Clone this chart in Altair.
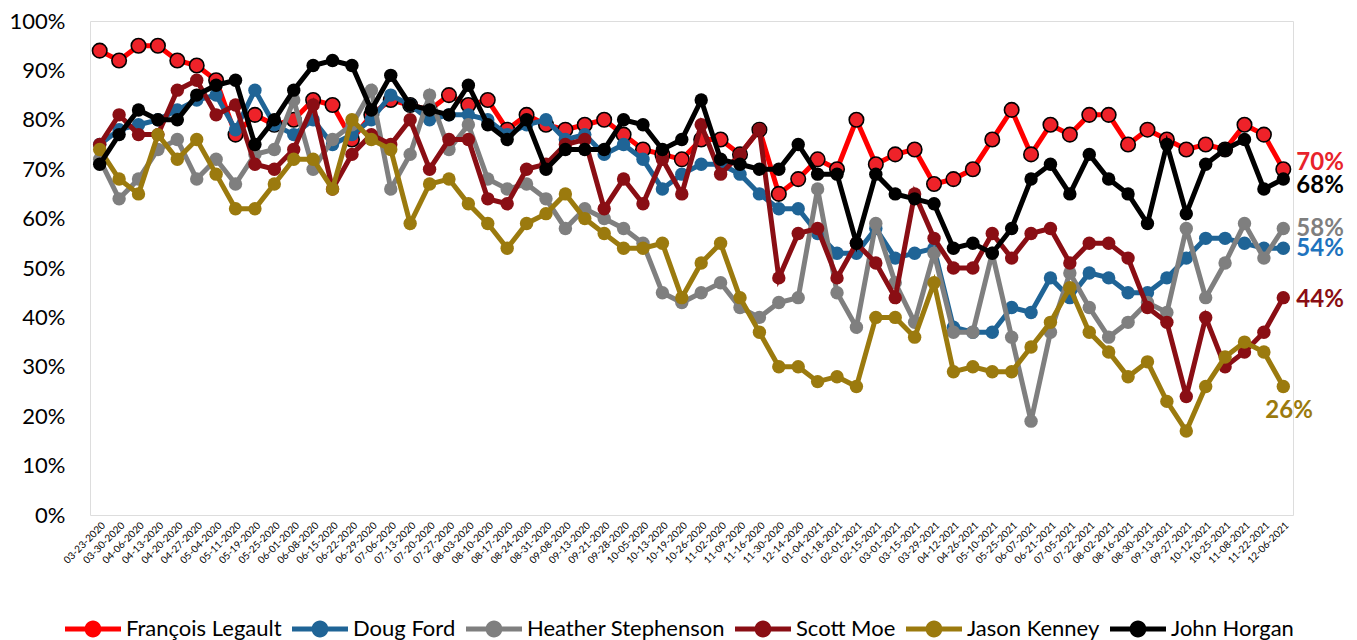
import altair as alt
import pandas as pd

dates = ["03-23-2020","03-30-2020","04-06-2020","04-13-2020","04-20-2020","04-27-2020","05-04-2020","05-11-2020",
         "05-19-2020","05-25-2020","06-01-2020","06-08-2020","06-15-2020","06-22-2020","06-29-2020","07-06-2020",
         "07-13-2020","07-20-2020","07-27-2020","08-03-2020","08-10-2020","08-17-2020","08-24-2020","08-31-2020",
         "09-08-2020","09-13-2020","09-21-2020","09-28-2020","10-05-2020","10-13-2020","10-19-2020","10-26-2020",
         "11-02-2020","11-09-2020","11-16-2020","11-30-2020","12-14-2020","01-04-2021","01-18-2021","02-01-2021",
         "02-15-2021","03-01-2021","03-15-2021","03-29-2021","04-12-2021","04-26-2021","05-10-2021","05-25-2021",
         "06-07-2021","06-21-2021","07-05-2021","07-22-2021","08-02-2021","08-16-2021","08-30-2021","09-13-2021",
         "09-27-2021","10-12-2021","10-25-2021","11-08-2021","11-22-2021","12-06-2021"]

legault = [94, 92, 95, 95, 92, 91, 88, 77, 81, 79,
           80, 84, 83, 76, 81, 84, 83, 82, 85, 83,
           84, 78, 81, 79, 78, 79, 80, 77, 74, 73,
           72, 76, 76, 73, 78, 65, 68, 72, 70, 80,
           71, 73, 74, 67, 68, 70, 76, 82, 73, 79,
           77, 81, 81, 75, 78, 76, 74, 75, 74, 79,
           77, 70]
ford = [75, 78, 79, 80, 82, 84, 85, 78, 86, 79,
        77, 80, 75, 77, 80, 85, 83, 80, 81, 81,
        80, 77, 79, 80, 76, 77, 73, 75, 72, 66,
        69, 71, 71, 69, 65, 62, 62, 57, 53, 53,
        58, 52, 53, 54, 38, 37, 37, 42, 41, 48,
        44, 49, 48, 45, 45, 48, 52, 56, 56, 55,
        54, 54]
stephenson = [72, 64, 68, 74, 76, 68, 72, 67, 73, 74,
              84, 70, 76, 79, 86, 66, 73, 85, 74, 79,
              68, 66, 67, 64, 58, 62, 60, 58, 55, 45,
              43, 45, 47, 42, 40, 43, 44, 66, 45, 38,
              59, 47, 39, 53, 37, 37, 53, 36, 19, 37,
              49, 42, 36, 39, 43, 41, 58, 44, 51, 59,
              52, 58]
moe = [75, 81, 77, 77, 86, 88, 81, 83, 71, 70,
       74, 83, 66, 73, 77, 75, 80, 70, 76, 76,
       64, 63, 70, 71, 75, 76, 62, 68, 63, 72,
       65, 79, 69, 73, 78, 48, 57, 58, 48, 55,
       51, 44, 65, 56, 50, 50, 57, 52, 57, 58,
       51, 55, 55, 52, 42, 39, 24, 40, 30, 33,
       37, 44]
kenney = [74, 68, 65, 77, 72, 76, 69, 62, 62, 67,
          72, 72, 66, 80, 76, 74, 59, 67, 68, 63,
          59, 54, 59, 61, 65, 60, 57, 54, 54, 55,
          44, 51, 55, 44, 37, 30, 30, 27, 28, 26,
          40, 40, 36, 47, 29, 30, 29, 29, 34, 39,
          46, 37, 33, 28, 31, 23, 17, 26, 32, 35,
          33, 26]
horgan = [71, 77, 82, 80, 80, 85, 87, 88, 75, 80,
          86, 91, 92, 91, 82, 89, 83, 82, 81, 87,
          79, 76, 80, 70, 74, 74, 74, 80, 79, 74,
          76, 84, 72, 71, 70, 70, 75, 69, 69, 55,
          69, 65, 64, 63, 54, 55, 53, 58, 68, 71,
          65, 73, 68, 65, 59, 75, 61, 71, 74, 76,
          66, 68]

names = ["François Legault", "Doug Ford", "Heather Stephenson", "Scott Moe", "Jason Kenney", "John Horgan"]
series_values = [legault, ford, stephenson, moe, kenney, horgan]
line_colors = ["#FF0000", "#1F6496", "#7F7F7F", "#8A0E14", "#9B7A0E", "#000000"]
label_colors = ["#E8232B", "#1E73BE", "#7F7F7F", "#8A0E14", "#9B7A0E", "#000000"]
# end-label offsets (dx, dy) in pixels, same order as names
label_offsets = [(13, -6), (13, 1), (13, 1), (13, 2), (-18, 24), (13, 7)]

rows = []
for n, vals in zip(names, series_values):
    for d, v in zip(dates, vals):
        rows.append({"date": d, "series": n, "value": v / 100.0})
df = pd.DataFrame(rows)

FONT = "Lato"
legend_path = ("M-1,-0.09L-0.27,-0.09L-0.27,0.09L-1,0.09Z"
               "M0.27,-0.09L1,-0.09L1,0.09L0.27,0.09Z"
               "M0.3,0A0.3,0.3,0,1,1,-0.3,0A0.3,0.3,0,1,1,0.3,0Z")

x_enc = alt.X("date:N", sort=dates,
              scale=alt.Scale(type="point", padding=0.5),
              axis=alt.Axis(title=None, labelAngle=-45, labelFontSize=10, labelFont=FONT,
                            labelColor="#000000", ticks=False, domain=False, labelPadding=5,
                            labelOverlap=False))
y_enc = alt.Y("value:Q", scale=alt.Scale(domain=[0, 1]),
              axis=alt.Axis(title=None, format="%", values=[i / 10 for i in range(11)],
                            labelFontSize=22, labelFont=FONT, labelColor="#000000",
                            grid=False, ticks=False, domain=False, labelPadding=25,
                            minExtent=82, maxExtent=82))
color_scale = alt.Scale(domain=names, range=line_colors)
legend = alt.Legend(title=None, orient="none", legendX=-25, legendY=580, direction="horizontal",
                    columns=6, symbolType=legend_path, symbolSize=3136, symbolStrokeWidth=0,
                    labelFont=FONT, labelFontSize=22, labelColor="#000000", labelOffset=5,
                    columnPadding=10, symbolOpacity=1, labelLimit=400)

base = alt.Chart(df)
layers = []
for i, n in enumerate(names):
    sub = base.transform_filter(alt.datum.series == n)
    line = sub.mark_line(strokeWidth=5, opacity=1).encode(
        x=x_enc, y=y_enc,
        color=alt.Color("series:N", scale=color_scale, legend=legend))
    layers.append(line)
    if i == 0:
        pts = sub.mark_point(filled=True, fill="#EE2229", stroke="#000000", strokeWidth=1.6,
                             size=210, opacity=1).encode(x=x_enc, y=y_enc)
    else:
        pts = sub.mark_point(filled=True, size=180, opacity=1, shape="circle").encode(
            x=x_enc, y=y_enc,
            color=alt.Color("series:N", scale=color_scale, legend=legend))
    layers.append(pts)

for i, n in enumerate(names):
    dx, dy = label_offsets[i]
    lab = base.transform_filter(
        (alt.datum.series == n) & (alt.datum.date == dates[-1])
    ).mark_text(align="left", baseline="middle", dx=dx, dy=dy, font=FONT, fontSize=24,
                fontWeight="bold", color=label_colors[i]).encode(
        x=x_enc, y=y_enc, text=alt.Text("value:Q", format=".0%"))
    layers.append(lab)

chart = alt.layer(*layers).properties(
    width=1203, height=494,
    padding={"left": 0, "top": 2, "right": 0, "bottom": 0}
).configure_view(stroke=None).configure(background="#FFFFFF")

chart.save("out.html", embed_options={"renderer": "svg", "actions": False})
